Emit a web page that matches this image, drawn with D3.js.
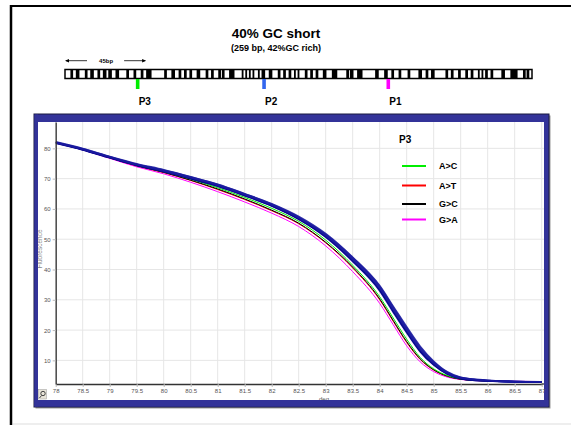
<!doctype html>
<html lang="en">
<head>
<meta charset="UTF-8">
<title>40% GC short</title>
<style>
  html, body { margin: 0; padding: 0; background: #fff; }
  svg { display: block; font-family: "Liberation Sans", Arial, sans-serif; }
</style>
</head>
<body>
<div class="container"></div>

<script src="https://d3js.org/d3.v7.min.js"></script>
<script>
  // ---- data ----
  const temps = [78, 78.5, 79, 79.5, 80, 80.5, 81, 81.5, 82, 82.5, 83, 83.5, 84, 84.25, 84.5, 84.75, 85, 85.25, 85.5, 86, 86.5, 87];

  // wild type replicates (blue bundle)
  const blue1 = [82.1, 79.9, 77.3, 74.9, 72.9, 70.6, 68.1, 65.0, 61.7, 57.5, 51.8, 44.0, 34.6, 27.8, 21.0, 14.6, 9.7, 6.2, 4.4, 3.4, 3.0, 2.9];
  const blue2 = [81.9, 79.7, 77.1, 74.6, 72.6, 70.3, 67.8, 64.7, 61.3, 57.0, 51.2, 43.3, 33.8, 26.8, 20.0, 13.6, 9.0, 5.8, 4.2, 3.3, 3.0, 2.9];
  const blue3 = [81.7, 79.5, 76.9, 74.4, 72.3, 70.0, 67.5, 64.4, 61.0, 56.6, 50.7, 42.7, 33.0, 26.0, 19.2, 12.9, 8.5, 5.5, 4.0, 3.2, 2.9, 2.9];
  const blue4 = [82.0, 79.8, 77.2, 74.7, 72.7, 70.5, 68.0, 64.9, 61.5, 57.2, 51.5, 43.8, 34.3, 27.4, 20.5, 14.1, 9.3, 6.0, 4.3, 3.3, 3.0, 2.9];
  const blue5 = [81.8, 79.6, 77.0, 74.5, 72.4, 70.1, 67.6, 64.5, 61.1, 56.8, 51.0, 43.0, 33.4, 26.4, 19.6, 13.2, 8.7, 5.6, 4.1, 3.2, 3.0, 2.9];

  // P3 variants
  const variants = ['A>C', 'A>T', 'G>C', 'G>A'];
  const variantColors = ['#00ee00', '#ff0000', '#000000', '#ff00ff'];
  const aToC = [81.9, 79.6, 77.0, 74.4, 72.3, 69.8, 67.0, 63.8, 60.2, 55.9, 49.7, 41.4, 31.0, 24.0, 17.0, 11.0, 7.2, 5.0, 3.9, 3.2, 3.0, 2.9];
  const aToT = [81.9, 79.6, 76.9, 74.2, 72.0, 69.4, 66.4, 63.1, 59.4, 55.1, 48.8, 40.5, 30.0, 22.9, 15.9, 10.3, 6.8, 4.8, 3.8, 3.2, 3.0, 2.9];
  const gToC = [81.9, 79.6, 76.9, 74.3, 72.1, 69.5, 66.6, 63.3, 59.6, 55.3, 49.0, 40.8, 30.3, 23.2, 16.2, 10.5, 6.9, 4.8, 3.8, 3.2, 3.0, 2.9];
  const gToA = [81.8, 79.5, 76.7, 73.9, 71.6, 68.8, 65.7, 62.3, 58.6, 54.2, 47.8, 39.3, 28.8, 21.8, 14.8, 9.5, 6.3, 4.5, 3.7, 3.2, 3.1, 3.0];

  const xTicks = [78, 78.5, 79, 79.5, 80, 80.5, 81, 81.5, 82, 82.5, 83, 83.5, 84, 84.5, 85, 85.5, 86, 86.5, 87];
  const yTicks = [10, 20, 30, 40, 50, 60, 70, 80];

  // amplicon map: black blocks [start bp, length bp], probe positions
  const ampliconLength = 259;
  const blocks = [[3,1.5],[6,2],[11,1.5],[14,2],[18,1.5],[21,2],[24,2],[28,2],[34,1.5],[38,1.5],[42,1.5],[45,3],
    [55,1.5],[59,2],[63,1.5],[66,1.5],[69,1.5],[73,2],[78,1.5],[81,1.5],[85,1.5],[87,1.5],[91,3],[98,1],[100,1],[102,1],
    [104,1],[107,1],[109,2],[113,2],[118,1.5],[121,1.5],[124,1.5],[127,1],[129,1],[133,1.5],[136,1.5],[139,1.5],
    [143,2],[148,3],[156,1.5],[158,2],[162,3],[172,2],[177,2],[181,1.5],[185,1.5],[190,1.5],[196,2],[200,1.5],
    [203,2],[211,1.5],[214,1.5],[218,1.5],[222,1.5],[225,1.5],[229,1],[231,1],[233,1.5],[236,1.5],[242,2],[247,4],
    [254,1.5],[256,1.5]];
  const probes = ['P3', 'P2', 'P1'];
  const probePos = [40.3, 110.4, 179.3];
  const probeColors = ['#00ee00', '#3366ee', '#ff00ff'];

  // ---- layout ----
  const W = 571, H = 425;
  const PLOT = { left: 55.7, right: 541.7, top: 122, bottom: 384, edge: 544 };

  const svg = d3.select('.container')
    .append('svg')
    .attr('width', W)
    .attr('height', H);

  // outer frame
  svg.append('line').attr('x1', 11).attr('x2', 11).attr('y1', 5).attr('y2', H)
    .attr('stroke', '#000').attr('stroke-width', 2.5);
  svg.append('line').attr('x1', 10).attr('x2', W).attr('y1', 6).attr('y2', 6)
    .attr('stroke', '#000').attr('stroke-width', 2);
  svg.append('line').attr('x1', 13).attr('x2', W).attr('y1', 424).attr('y2', 424)
    .attr('stroke', '#ddd').attr('stroke-width', 1);

  // titles
  svg.append('text').attr('x', 276).attr('y', 38).attr('text-anchor', 'middle')
    .style('font-size', '13.5px').style('font-weight', 'bold').text('40% GC short');
  svg.append('text').attr('x', 276).attr('y', 51).attr('text-anchor', 'middle')
    .style('font-size', '9px').style('font-weight', 'bold').text('(259 bp, 42%GC rich)');

  // amplicon map
  const bp = d3.scaleLinear().domain([0, ampliconLength]).range([65, 532]);
  const map = svg.append('g');

  // 45bp scale arrows
  const arrowY = 60.7;
  map.append('line').attr('x1', bp(0) + 1).attr('x2', bp(0) + 22).attr('y1', arrowY).attr('y2', arrowY)
    .attr('stroke', '#000').attr('stroke-width', 0.8);
  map.append('path').attr('d', `M${bp(0)},${arrowY} l4,-1.8 l0,3.6 z`).attr('fill', '#000');
  map.append('line').attr('x1', bp(45) - 22).attr('x2', bp(45) - 1).attr('y1', arrowY).attr('y2', arrowY)
    .attr('stroke', '#000').attr('stroke-width', 0.8);
  map.append('path').attr('d', `M${bp(45)},${arrowY} l-4,-1.8 l0,3.6 z`).attr('fill', '#000');
  map.append('text').attr('x', (bp(0) + bp(45)) / 2 + 0.5).attr('y', arrowY + 2)
    .attr('text-anchor', 'middle').style('font-size', '6px').style('font-weight', 'bold').text('45bp');

  map.append('rect').attr('x', bp(0)).attr('y', 69.5).attr('width', bp(ampliconLength) - bp(0)).attr('height', 9)
    .attr('fill', '#fff').attr('stroke', '#000').attr('stroke-width', 1.5);
  map.selectAll('rect.blk').data(blocks).enter().append('rect')
    .attr('class', 'blk')
    .attr('x', d => bp(d[0]))
    .attr('y', 69.5)
    .attr('width', d => bp(d[0] + d[1]) - bp(d[0]))
    .attr('height', 9)
    .attr('fill', '#000');

  map.selectAll('rect.probe').data(probes).enter().append('rect')
    .attr('class', 'probe')
    .attr('x', (d, i) => bp(probePos[i]) - 1.8)
    .attr('y', 79)
    .attr('width', 3.6)
    .attr('height', 10)
    .attr('fill', (d, i) => probeColors[i]);
  map.selectAll('text.probe').data(probes).enter().append('text')
    .attr('class', 'probe')
    .attr('x', (d, i) => bp(probePos[i]) + 1)
    .attr('y', 105)
    .style('font-size', '10px').style('font-weight', 'bold')
    .text(d => d);

  // ---- chart panel ----
  const panel = svg.append('g');
  panel.append('rect').attr('x', 35.5).attr('y', 115.5).attr('width', 515).attr('height', 293)
    .attr('fill', '#999');
  panel.append('rect').attr('x', 34).attr('y', 114).attr('width', 515).attr('height', 293)
    .attr('fill', '#333399').attr('stroke', '#1a1a40').attr('stroke-width', 1);
  panel.append('rect').attr('x', 38).attr('y', 122).attr('width', 506).attr('height', 278)
    .attr('fill', '#fff');

  const x = d3.scaleLinear().domain([78, 87]).range([PLOT.left, PLOT.right]);
  const y = d3.scaleLinear().domain([2.2, 88.7]).range([PLOT.bottom, PLOT.top]);

  // grid
  const grid = panel.append('g').attr('stroke', '#e6e6e6').attr('stroke-width', 1);
  grid.selectAll('line.v').data(xTicks).enter().append('line')
    .attr('x1', d => x(d)).attr('x2', d => x(d))
    .attr('y1', PLOT.top).attr('y2', PLOT.bottom);
  grid.selectAll('line.h').data(yTicks).enter().append('line')
    .attr('x1', PLOT.left).attr('x2', PLOT.edge)
    .attr('y1', d => y(d)).attr('y2', d => y(d));

  // curves
  const clip = svg.append('clipPath').attr('id', 'plotclip');
  clip.append('rect').attr('x', PLOT.left).attr('y', PLOT.top)
    .attr('width', PLOT.edge - PLOT.left).attr('height', PLOT.bottom - PLOT.top);

  const line = d3.line()
    .x((d, i) => x(temps[i]))
    .y(d => y(d))
    .curve(d3.curveMonotoneX);

  const curves = panel.append('g').attr('clip-path', 'url(#plotclip)').attr('fill', 'none');
  const variantSeries = [aToC, aToT, gToC, gToA];
  // drawn from back to front
  [3, 1, 2, 0].forEach(i => {
    curves.append('path').attr('d', line(variantSeries[i]))
      .attr('stroke', variantColors[i]).attr('stroke-width', 1);
  });
  [blue1, blue3, blue4, blue5, blue2].forEach((s, i) => {
    curves.append('path').attr('d', line(s))
      .attr('stroke', i % 2 ? '#00008c' : '#1c1ca0')
      .attr('stroke-width', 1.8)
      .attr('stroke-opacity', 0.9);
  });

  // axes
  const xAxis = d3.axisBottom(x).tickValues(xTicks).tickSize(3).tickSizeOuter(0).tickPadding(2)
    .tickFormat(d => d3.format('')(d));
  const yAxis = d3.axisLeft(y).tickValues(yTicks).tickSize(3).tickSizeOuter(0).tickPadding(2);

  const xAxisGroup = panel.append('g').attr('transform', `translate(0, ${PLOT.bottom})`).call(xAxis);
  const yAxisGroup = panel.append('g').attr('transform', `translate(${PLOT.left}, 0)`).call(yAxis);
  [xAxisGroup, yAxisGroup].forEach(g => {
    g.select('.domain').attr('stroke', '#333').attr('stroke-width', 1.3);
    g.selectAll('.tick line').attr('stroke', '#bbb');
    g.selectAll('.tick text').attr('fill', '#555').style('font-size', '6px')
      .style('font-family', '"Liberation Sans", Arial, sans-serif');
  });
  panel.append('line').attr('x1', PLOT.right).attr('x2', PLOT.edge)
    .attr('y1', PLOT.bottom).attr('y2', PLOT.bottom).attr('stroke', '#333').attr('stroke-width', 1.3);

  panel.append('text').attr('x', 324).attr('y', 401).attr('text-anchor', 'middle')
    .attr('fill', '#555').style('font-size', '6px').text('deg');
  panel.append('text').attr('transform', 'translate(42, 249) rotate(-90)').attr('text-anchor', 'middle')
    .attr('fill', '#888').style('font-size', '6.5px').text('Fluorescence');

  // redraw the blue band on top so labels are clipped like the original
  panel.append('rect').attr('x', 34.5).attr('y', 400).attr('width', 514).attr('height', 6.5).attr('fill', '#333399');
  panel.append('rect').attr('x', 34.5).attr('y', 114.5).attr('width', 3.5).attr('height', 292).attr('fill', '#333399');

  // small corner icon
  const icon = panel.append('g').attr('transform', 'translate(38.5, 389.5)');
  icon.append('rect').attr('width', 8).attr('height', 9.5).attr('fill', '#e8e4d8').attr('stroke', '#999').attr('stroke-width', 0.5);
  icon.append('circle').attr('cx', 4.5).attr('cy', 4).attr('r', 2.2).attr('fill', 'none').attr('stroke', '#444').attr('stroke-width', 1);
  icon.append('line').attr('x1', 1).attr('y1', 8.5).attr('x2', 3).attr('y2', 6).attr('stroke', '#444').attr('stroke-width', 1);

  // legend
  const legend = panel.append('g');
  const legendY = [166, 185.5, 204, 219.5];
  legend.append('text').attr('x', 399).attr('y', 142.5)
    .style('font-size', '10px').style('font-weight', 'bold').text('P3');
  const items = legend.selectAll('g.item').data(variants).enter().append('g')
    .attr('class', 'item')
    .attr('transform', (d, i) => `translate(0, ${legendY[i]})`);
  items.append('line').attr('x1', 402).attr('x2', 426)
    .attr('stroke', (d, i) => variantColors[i]).attr('stroke-width', 2);
  items.append('text').attr('x', 439).attr('y', 3.2)
    .style('font-size', '9px').style('font-weight', 'bold').text(d => d);
</script>
</body>
</html>
